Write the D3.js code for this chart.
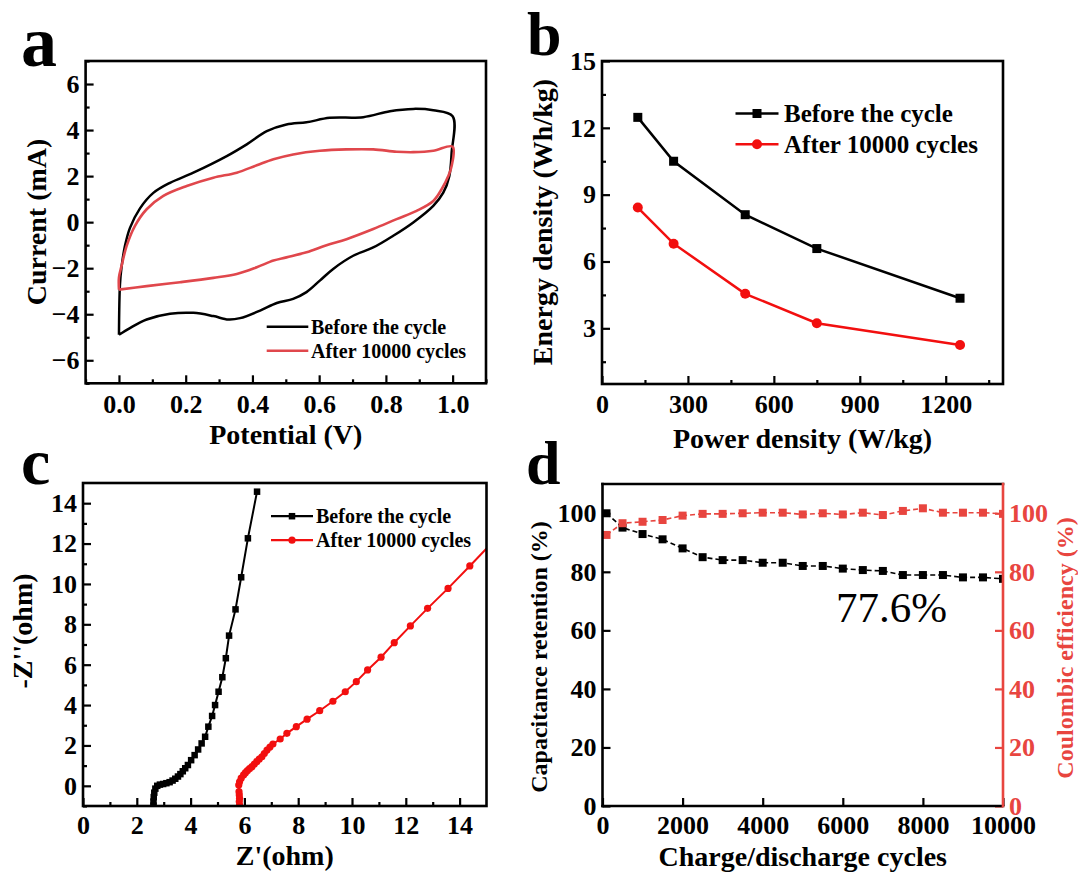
<!DOCTYPE html>
<html>
<head>
<meta charset="utf-8">
<script src="https://cdn.jsdelivr.net/npm/d3@7"></script>
<style>
  body { margin: 0; background: #fff; }
  svg { display: block; font-family: "Liberation Serif", "Times New Roman", serif; font-weight: bold; }
</style>
</head>
<body>
<svg id="chart" width="1078" height="872"></svg>
<script>
// Four-panel figure: CV loops, Ragone plot, Nyquist plot, cycling stability
const seriesNames = ["Before the cycle", "After 10000 cycles"];

// (a) cyclic voltammetry loops, potential (V) / current (mA)
const cvBeforeV = [0.0, 0.003, 0.008, 0.018, 0.033, 0.063, 0.103, 0.153, 0.223, 0.323, 0.383, 0.443, 0.502, 0.562, 0.632, 0.732, 0.812, 0.882, 0.942, 1.0,
                   0.997, 0.99, 0.972, 0.942, 0.882, 0.822, 0.762, 0.702, 0.642, 0.602, 0.562, 0.522, 0.473, 0.423, 0.363, 0.328, 0.283, 0.223, 0.153, 0.083, 0.033, 0.0];
const cvBeforeI = [-4.89, -2.7, -1.92, -1.03, -0.25, 0.6, 1.27, 1.71, 2.15, 2.87, 3.38, 3.95, 4.24, 4.34, 4.53, 4.56, 4.82, 4.92, 4.86, 4.6,
                   3.02, 2.0, 1.28, 0.71, -0.01, -0.59, -1.1, -1.46, -2.03, -2.54, -3.04, -3.33, -3.51, -3.84, -4.17, -4.23, -4.08, -3.94, -3.98, -4.23, -4.6, -4.89];
const cvAfterV = [0.0, 0.0, 0.008, 0.023, 0.048, 0.083, 0.133, 0.203, 0.283, 0.353, 0.413, 0.463, 0.522, 0.602, 0.682, 0.762, 0.832, 0.882, 0.942, 1.0,
                  0.997, 0.987, 0.967, 0.942, 0.892, 0.832, 0.762, 0.682, 0.622, 0.562, 0.502, 0.463, 0.413, 0.353, 0.283, 0.183, 0.083, 0.0];
const cvAfterI = [-2.93, -2.4, -1.89, -1.03, -0.16, 0.56, 1.14, 1.57, 1.93, 2.15, 2.47, 2.73, 2.94, 3.1, 3.16, 3.16, 3.06, 3.04, 3.1, 3.28,
                  2.44, 2.0, 1.43, 0.92, 0.49, 0.13, -0.3, -0.74, -1.0, -1.31, -1.53, -1.67, -1.96, -2.25, -2.42, -2.61, -2.78, -2.93];

// (b) Ragone plot
const powerDensity = [125, 250, 500, 750, 1250];
const energyBefore = [12.47, 10.5, 8.1, 6.58, 4.35];
const energyAfter = [8.42, 6.8, 4.55, 3.23, 2.25];

// (c) Nyquist plot, Z' / -Z''
const eisBeforeRe = [2.62, 2.62, 2.63, 2.65, 2.69, 2.76, 2.86, 2.98, 3.1, 3.22, 3.33, 3.43, 3.53, 3.62, 3.71, 3.8, 3.9, 4.02, 4.15, 4.28, 4.41, 4.54, 4.66, 4.8, 4.91, 5.04, 5.18, 5.31, 5.43, 5.67, 5.88, 6.13, 6.47];
const eisBeforeIm = [-0.98, -0.78, -0.56, -0.34, -0.14, 0.0, 0.06, 0.09, 0.13, 0.18, 0.26, 0.35, 0.46, 0.58, 0.72, 0.87, 1.03, 1.27, 1.52, 1.8, 2.1, 2.43, 2.93, 3.46, 4.0, 4.66, 5.38, 6.32, 7.44, 8.74, 10.33, 12.26, 14.57];
const eisAfterRe = [5.82, 5.81, 5.82, 5.81, 5.8, 5.79, 5.82, 5.88, 5.97, 6.04, 6.11, 6.19, 6.28, 6.37, 6.46, 6.55, 6.65, 6.74, 6.84, 6.95, 7.06, 7.33, 7.58, 7.93, 8.33, 8.8, 9.29, 9.75, 10.16, 10.58, 11.08, 11.57, 12.17, 12.81, 13.57, 14.38, 15.25];
const eisAfterIm = [-0.95, -0.78, -0.62, -0.45, -0.29, 0.04, 0.2, 0.38, 0.54, 0.65, 0.75, 0.85, 0.95, 1.08, 1.2, 1.32, 1.44, 1.6, 1.77, 1.92, 2.07, 2.32, 2.6, 2.93, 3.3, 3.72, 4.19, 4.66, 5.16, 5.74, 6.37, 7.09, 7.92, 8.79, 9.78, 10.89, 12.1];

// (d) cycling stability
const cycles = [100, 500, 1000, 1500, 2000, 2500, 3000, 3500, 4000, 4500, 5000, 5500, 6000, 6500, 7000, 7500, 8000, 8500, 9000, 9500, 10000];
const retention = [100, 95.1, 92.9, 91.1, 88.0, 85.0, 84.0, 84.0, 83.1, 83.1, 82.0, 82.0, 81.1, 80.6, 80.3, 78.9, 78.9, 78.9, 78.1, 78.1, 77.6];
const coulombic = [92.6, 96.6, 97.1, 97.7, 99.2, 99.8, 99.8, 100, 100.2, 100.2, 99.6, 100, 99.6, 100.2, 99.4, 100.8, 101.7, 100.2, 100.2, 100.2, 99.8];
const retentionNote = "77.6%";

// tick values
const aTicksX = [0, 0.2, 0.4, 0.6, 0.8, 1.0], aMinorX = [-0.1, 0.1, 0.3, 0.5, 0.7, 0.9, 1.1];
const aTicksY = [-6, -4, -2, 0, 2, 4, 6], aMinorY = [-7, -5, -3, -1, 1, 3, 5, 7];
const bTicksX = [0, 300, 600, 900, 1200], bMinorX = [150, 450, 750, 1050, 1350];
const bTicksY = [3, 6, 9, 12, 15], bMinorY = [1.5, 4.5, 7.5, 10.5, 13.5];
const cTicksX = [0, 2, 4, 6, 8, 10, 12, 14], cMinorX = [1, 3, 5, 7, 9, 11, 13];
const cTicksY = [0, 2, 4, 6, 8, 10, 12, 14], cMinorY = [-1, 1, 3, 5, 7, 9, 11, 13];
const dTicksX = [0, 2000, 4000, 6000, 8000, 10000];
const dTicksY = [0, 20, 40, 60, 80, 100];

const redA = "#e0474c", redB = "#f20f0f", redD = "#e8453f";

const svg = d3.select("#chart");

function makePanel(box, xDom, yDom, name) {
  const x = d3.scaleLinear().domain(xDom).range([box.x0, box.x1]);
  const y = d3.scaleLinear().domain(yDom).range([box.y1, box.y0]);
  svg.append("clipPath").attr("id", "clip-" + name)
    .append("rect")
    .attr("x", box.x0).attr("y", box.y0)
    .attr("width", box.x1 - box.x0).attr("height", box.y1 - box.y0);
  const plot = svg.append("g").attr("clip-path", `url(#clip-${name})`);
  return { box, x, y, plot };
}

function styleAxis(g, color) {
  g.attr("font-family", null).attr("font-size", 26).attr("fill", color);
  g.selectAll(".domain").remove();
  g.selectAll("line").attr("stroke", color).attr("stroke-width", 2.2);
  g.selectAll("text").attr("fill", color);
  g.selectAll("g").attr("font-family", null);
}

function axisX(p, major, minor, fmt, pad) {
  const g = svg.append("g").attr("transform", `translate(0,${p.box.y1})`);
  g.call(d3.axisBottom(p.x).tickValues(major).tickSize(-8).tickPadding(pad || 11).tickFormat(fmt));
  if (minor) g.append("g").call(d3.axisBottom(p.x).tickValues(minor).tickSize(-4).tickFormat(""));
  styleAxis(g, "#000");
}

function axisY(p, scale, major, minor, fmt, side, color) {
  const right = side === "right";
  const make = right ? d3.axisRight : d3.axisLeft;
  const g = svg.append("g").attr("transform", `translate(${right ? p.box.x1 : p.box.x0},0)`);
  g.call(make(scale).tickValues(major).tickSize(-8).tickPadding(6).tickFormat(fmt));
  if (minor) g.append("g").call(make(scale).tickValues(minor).tickSize(-4).tickFormat(""));
  styleAxis(g, color);
}

function frame(p) {
  const b = p.box;
  svg.append("rect")
    .attr("x", b.x0).attr("y", b.y0)
    .attr("width", b.x1 - b.x0).attr("height", b.y1 - b.y0)
    .attr("fill", "none").attr("stroke", "#000").attr("stroke-width", 2.6);
}

function titleX(p, text, cy) {
  svg.append("text")
    .attr("x", (p.box.x0 + p.box.x1) / 2).attr("y", cy).attr("dy", "0.35em")
    .attr("text-anchor", "middle").attr("font-size", 28)
    .text(text);
}

function titleY(cx, cy, text, size, color) {
  svg.append("text")
    .attr("transform", `translate(${cx},${cy}) rotate(-90)`)
    .attr("dy", "0.35em").attr("text-anchor", "middle")
    .attr("font-size", size).attr("fill", color || "#000")
    .text(text);
}

function panelLetter(t, x, y, size) {
  svg.append("text").attr("x", x).attr("y", y).attr("font-size", size).text(t);
}

function squares(g, xs, ys, p, size, color) {
  g.selectAll(null).data(xs).join("rect")
    .attr("x", (d) => p.x(d) - size / 2)
    .attr("y", (d, i) => p.y(ys[i]) - size / 2)
    .attr("width", size).attr("height", size)
    .attr("fill", color);
}

function circles(g, xs, ys, p, r, color) {
  g.selectAll(null).data(xs).join("circle")
    .attr("cx", (d) => p.x(d))
    .attr("cy", (d, i) => p.y(ys[i]))
    .attr("r", r).attr("fill", color);
}

function pathOf(xs, ys, p, curve) {
  const line = d3.line().x((d) => p.x(d[0])).y((d) => p.y(d[1]));
  if (curve) line.curve(curve);
  return line(xs.map((v, i) => [v, ys[i]]));
}

function legendRow(x0, x1, y, tx, label, color, size, width, marker) {
  svg.append("line").attr("x1", x0).attr("x2", x1).attr("y1", y).attr("y2", y)
    .attr("stroke", color).attr("stroke-width", width);
  const mx = (x0 + x1) / 2;
  if (marker && marker.type === "square") {
    svg.append("rect").attr("x", mx - marker.s / 2).attr("y", y - marker.s / 2)
      .attr("width", marker.s).attr("height", marker.s).attr("fill", color);
  } else if (marker && marker.type === "circle") {
    svg.append("circle").attr("cx", mx).attr("cy", y).attr("r", marker.r).attr("fill", color);
  }
  svg.append("text").attr("x", tx).attr("y", y).attr("dy", "0.35em")
    .attr("font-size", size).text(label);
}

// ---------- (a) CV ----------
const pa = makePanel({ x0: 85.6, x1: 486, y0: 61, y1: 383.3 }, [-0.1, 1.1], [-7, 7], "a");
pa.plot.append("path").attr("d", pathOf(cvBeforeV, cvBeforeI, pa, d3.curveCatmullRom.alpha(0.5)))
  .attr("fill", "none").attr("stroke", "#000").attr("stroke-width", 2.5);
pa.plot.append("path").attr("d", pathOf(cvAfterV, cvAfterI, pa, d3.curveCatmullRom.alpha(0.5)))
  .attr("fill", "none").attr("stroke", redA).attr("stroke-width", 2.6);
axisX(pa, aTicksX, aMinorX, d3.format(".1f"));
axisY(pa, pa.y, aTicksY, aMinorY, d3.format("d"), "left", "#000");
frame(pa);
legendRow(266.7, 308.3, 326.7, 311, seriesNames[0], "#000", 20, 2.6);
legendRow(266.7, 308.3, 350.7, 311, seriesNames[1], redA, 20, 2.6);
titleX(pa, "Potential (V)", 434);
titleY(36, 222, "Current (mA)", 28);
panelLetter("a", 21, 66, 72);

// ---------- (b) Ragone ----------
const pb = makePanel({ x0: 602, x1: 1003, y0: 61, y1: 384 }, [0, 1400], [0.5, 15], "b");
pb.plot.append("path").attr("d", pathOf(powerDensity, energyBefore, pb))
  .attr("fill", "none").attr("stroke", "#000").attr("stroke-width", 2.5);
pb.plot.append("path").attr("d", pathOf(powerDensity, energyAfter, pb))
  .attr("fill", "none").attr("stroke", redB).attr("stroke-width", 2.5);
squares(pb.plot, powerDensity, energyBefore, pb, 9, "#000");
circles(pb.plot, powerDensity, energyAfter, pb, 5, redB);
axisX(pb, bTicksX, bMinorX, d3.format("d"));
axisY(pb, pb.y, bTicksY, bMinorY, d3.format("d"), "left", "#000");
frame(pb);
legendRow(735.5, 778.5, 113.5, 784, seriesNames[0], "#000", 25, 2.5, { type: "square", s: 9 });
legendRow(735.5, 778.5, 144.3, 784, seriesNames[1], redB, 25, 2.5, { type: "circle", r: 5 });
titleX(pb, "Power density (W/kg)", 438);
titleY(542, 222, "Energy density (Wh/kg)", 28);
panelLetter("b", 527, 55, 62);

// ---------- (c) Nyquist ----------
const pc = makePanel({ x0: 83, x1: 486.5, y0: 483, y1: 806 }, [0, 15], [-1, 15], "c");
pc.plot.append("path").attr("d", pathOf(eisBeforeRe, eisBeforeIm, pc))
  .attr("fill", "none").attr("stroke", "#000").attr("stroke-width", 2);
pc.plot.append("path").attr("d", pathOf(eisAfterRe, eisAfterIm, pc))
  .attr("fill", "none").attr("stroke", redB).attr("stroke-width", 2);
squares(pc.plot, eisBeforeRe, eisBeforeIm, pc, 6.5, "#000");
circles(pc.plot, eisAfterRe, eisAfterIm, pc, 3.6, redB);
axisX(pc, cTicksX, cMinorX, d3.format("d"), 10);
axisY(pc, pc.y, cTicksY, cMinorY, d3.format("d"), "left", "#000");
frame(pc);
legendRow(271, 313, 516.2, 316, seriesNames[0], "#000", 20, 2.2, { type: "square", s: 6.5 });
legendRow(271, 313, 540.2, 316, seriesNames[1], redB, 20, 2.2, { type: "circle", r: 3.6 });
titleX(pc, "Z'(ohm)", 855);
titleY(22, 631, "-Z''(ohm)", 28);
panelLetter("c", 21, 484, 66);

// ---------- (d) stability ----------
const pd = makePanel({ x0: 602.5, x1: 1003, y0: 484, y1: 806 }, [0, 10000], [0, 110], "d");
const yRight = d3.scaleLinear().domain([0, 110]).range([pd.box.y1, pd.box.y0]);
const pdR = { x: pd.x, y: yRight };
pd.plot.append("path").attr("d", pathOf(cycles, retention, pd))
  .attr("fill", "none").attr("stroke", "#000").attr("stroke-width", 1.6).attr("stroke-dasharray", "5,3");
pd.plot.append("path").attr("d", pathOf(cycles, coulombic, pdR))
  .attr("fill", "none").attr("stroke", redD).attr("stroke-width", 1.6).attr("stroke-dasharray", "5,3");
squares(pd.plot, cycles, retention, pd, 8, "#000");
squares(pd.plot, cycles, coulombic, pdR, 8, redD);
axisX(pd, dTicksX, null, d3.format("d"), 10);
axisY(pd, pd.y, dTicksY, null, d3.format("d"), "left", "#000");
axisY(pd, yRight, dTicksY, null, d3.format("d"), "right", redD);
{
  const b = pd.box;
  const edges = [
    [b.x0, b.y0, b.x1, b.y0, "#000"],
    [b.x0, b.y1, b.x1, b.y1, "#000"],
    [b.x0, b.y0, b.x0, b.y1, "#000"],
    [b.x1, b.y0, b.x1, b.y1, redD]
  ];
  svg.selectAll(null).data(edges).join("line")
    .attr("x1", (d) => d[0]).attr("y1", (d) => d[1])
    .attr("x2", (d) => d[2]).attr("y2", (d) => d[3])
    .attr("stroke", (d) => d[4]).attr("stroke-width", 2.6)
    .attr("stroke-linecap", "square");
}
svg.append("text").attr("x", 836).attr("y", 622)
  .attr("font-size", 43).attr("font-weight", "normal")
  .text(retentionNote);
titleX(pd, "Charge/discharge cycles", 856);
titleY(539, 657, "Capacitance retention (%)", 24);
titleY(1065, 648, "Coulombic efficiency (%)", 24, redD);
panelLetter("d", 526, 484, 62);
</script>
</body>
</html>
